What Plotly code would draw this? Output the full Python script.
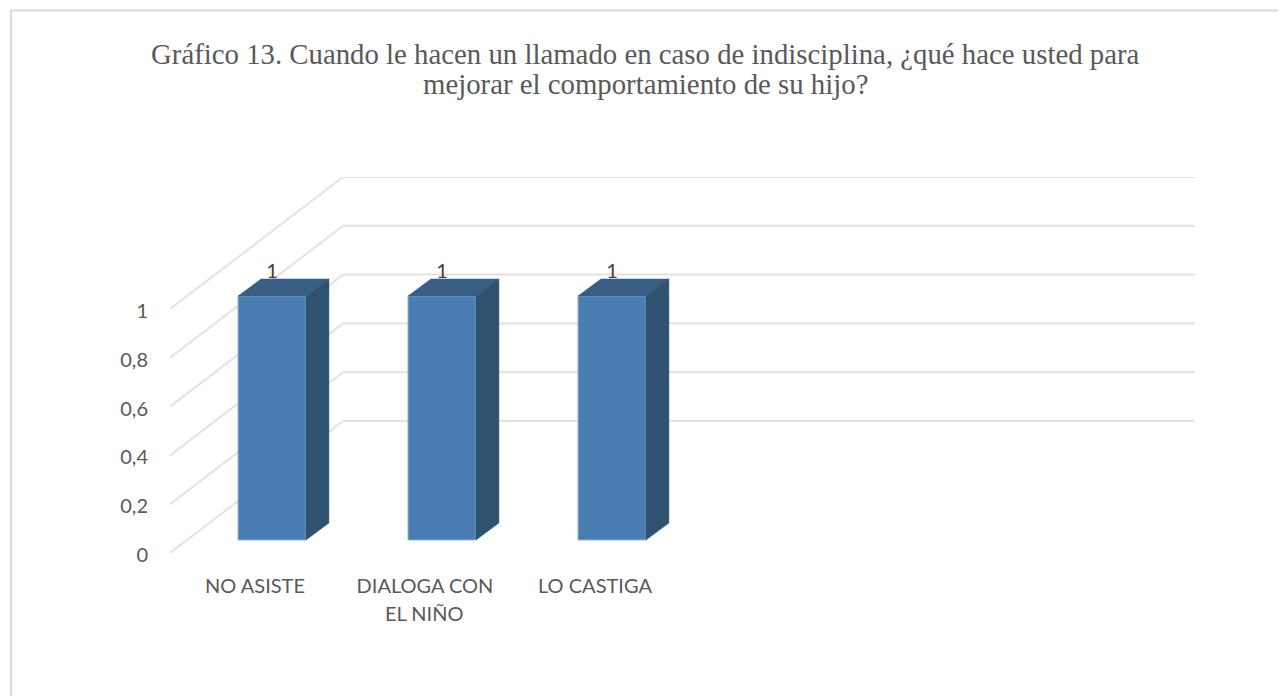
import plotly.graph_objects as go

# values
categories = ["NO ASISTE", "DIALOGA CON", "LO CASTIGA"]
second_line = ["", "EL NIÑO", ""]
values = [1, 1, 1]
y_ticks = [0, 0.2, 0.4, 0.6, 0.8, 1]

title_lines = [
    "Gráfico 13. Cuando le hacen un llamado en caso de indisciplina, ¿qué hace usted para",
    "mejorar el comportamiento de su hijo?",
]

# fake 3d: how far the back wall and the bars are shifted, in axis units
x_start = -0.5
x_end = 5.53
y_end = 1.541
wall_dx = 1.018
wall_dy = 0.541
bar_shift = 0.1
bar_lift = 0.053
bar_width = 0.4
bar_dx = 0.135
bar_dy = 0.07
label_drop = 0.016

# plot area in figure pixels (the page adds 8px of body margin)
fig_w, fig_h = 1278, 688
m_l, m_r, m_t, m_b = 162, 91, 169, 143
plot_w = fig_w - m_l - m_r
plot_h = fig_h - m_t - m_b


def paper_x(px):
    return (px - 8 - m_l) / plot_w


def paper_y(py):
    return (fig_h - m_b - (py - 8)) / plot_h


fig = go.Figure()

# chart border, only left and top show
fig.add_shape(type="line", xref="paper", yref="paper", x0=paper_x(11), y0=paper_y(700), x1=paper_x(11), y1=paper_y(10.5),
              line=dict(color="#D9D9D9", width=2))
fig.add_shape(type="line", xref="paper", yref="paper", x0=paper_x(10), y0=paper_y(10.5), x1=paper_x(1290), y1=paper_y(10.5),
              line=dict(color="#D9D9D9", width=2))

# walls and floor lines
for v in y_ticks:
    fig.add_shape(type="line", layer="below", xref="x", yref="y",
                  x0=x_start, y0=v, x1=x_start + wall_dx, y1=v + wall_dy,
                  line=dict(color="#E2E2E2", width=2))
    fig.add_shape(type="line", layer="below", xref="x", yref="y",
                  x0=x_start + wall_dx, y0=v + wall_dy, x1=x_end, y1=v + wall_dy,
                  line=dict(color="#E2E2E2", width=2))

positions = list(range(len(categories)))

# front of the bars
fig.add_bar(x=[p + bar_shift for p in positions], y=values, base=bar_lift, width=bar_width,
            marker=dict(color="#4A7EB2", line=dict(color="#9DBAD6", width=1)), showlegend=False)

# top and side of the bars
for p, v in zip(positions, values):
    left = p + bar_shift - bar_width / 2
    right = p + bar_shift + bar_width / 2
    top = v + bar_lift
    fig.add_scatter(x=[left, left + bar_dx, right + bar_dx, right, left],
                    y=[top, top + bar_dy, top + bar_dy, top, top],
                    mode="lines", fill="toself", fillcolor="#385E85",
                    line=dict(color="#385E85", width=0.5), showlegend=False)
    fig.add_scatter(x=[right, right + bar_dx, right + bar_dx, right, right],
                    y=[bar_lift, bar_lift + bar_dy, top + bar_dy, top, bar_lift],
                    mode="lines", fill="toself", fillcolor="#2E5270",
                    line=dict(color="#2E5270", width=0.5), showlegend=False)

# value labels
fig.add_scatter(x=[p + bar_shift for p in positions],
                y=[v + bar_lift + bar_dy - label_drop for v in values],
                mode="text", text=[str(v) for v in values], textposition="top center",
                textfont=dict(family="Lato", size=20, color="#404040"), showlegend=False)

# second line of the category labels
for p, t in zip(positions, second_line):
    if t:
        fig.add_annotation(x=(p - x_start) / (x_end - x_start), y=paper_y(613), xref="paper", yref="paper",
                           xanchor="center", yanchor="middle", text=t, showarrow=False,
                           font=dict(family="Lato", size=20, color="#595959"))

# title
for i, t in enumerate(title_lines):
    fig.add_annotation(x=paper_x(645), y=paper_y(54.5 + 29.5 * i), xref="paper", yref="paper",
                       xanchor="center", yanchor="middle", text=t, showarrow=False,
                       font=dict(family="Liberation Serif", size=28.8, color="#595959"))

fig.update_xaxes(range=[x_start, x_end], tickvals=positions, ticktext=categories, showgrid=False,
                 zeroline=False, showline=False, ticks="outside", ticklen=15, tickcolor="rgba(0,0,0,0)",
                 tickfont=dict(family="Lato", size=20, color="#595959"))
fig.update_yaxes(range=[0, y_end], tickvals=y_ticks, showgrid=False, zeroline=False, showline=False,
                 ticks="outside", ticklen=17, tickcolor="rgba(0,0,0,0)", ticklabelshift=2,
                 tickfont=dict(family="Lato", size=20, color="#595959"))

fig.update_layout(width=fig_w, height=fig_h, margin=dict(l=m_l, r=m_r, t=m_t, b=m_b),
                  paper_bgcolor="white", plot_bgcolor="white", separators=", ")

fig.write_html("out.html")
